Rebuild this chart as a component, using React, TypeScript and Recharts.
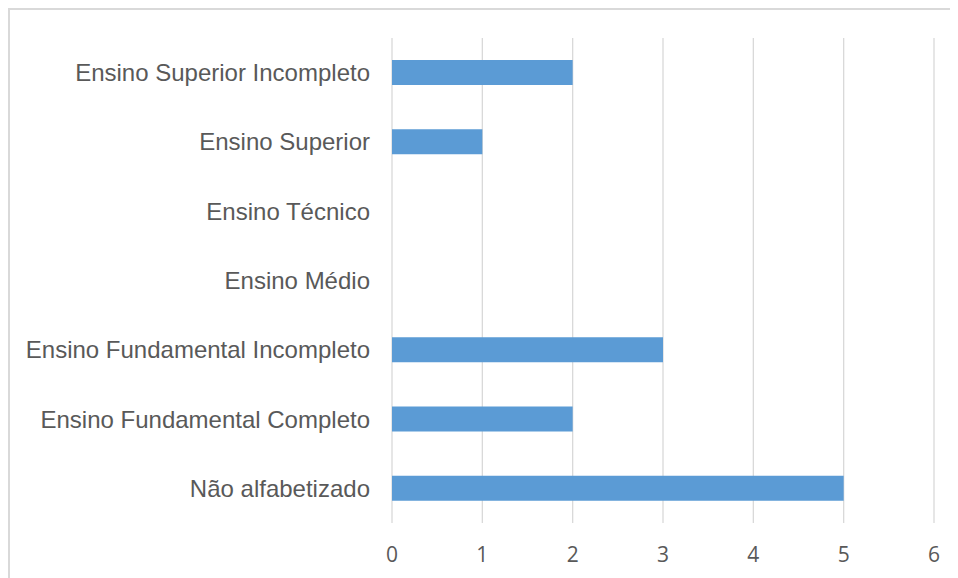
import { BarChart, Bar, XAxis, YAxis, CartesianGrid } from 'recharts';

const categories = [
    'Ensino Superior Incompleto',
    'Ensino Superior',
    'Ensino Técnico',
    'Ensino Médio',
    'Ensino Fundamental Incompleto',
    'Ensino Fundamental Completo',
    'Não alfabetizado',
];

const values = [2, 1, 0, 0, 3, 2, 5];

const xTicks = [0, 1, 2, 3, 4, 5, 6];

const data = categories.map((name, i) => ({ name, value: values[i] }));

export default function App() {
    // the frame runs off the right and bottom edge of the picture; no scrollbars
    return (
        <>
            <style>{'html, body { overflow: hidden; }'}</style>
            <div
                style={{
                    width: 980,
                    height: 590,
                    borderTop: '2px solid #d9d9d9',
                    borderLeft: '2px solid #d9d9d9',
                    background: '#fff',
                }}
            >
                <BarChart
                    width={948}
                    height={568}
                    data={data}
                    layout="vertical"
                    margin={{ top: 28, right: 24, bottom: 15, left: 0 }}
                >
                    <CartesianGrid horizontal={false} stroke="#d9d9d9" strokeWidth={1.3} />
                    <XAxis
                        type="number"
                        domain={[0, 6]}
                        ticks={xTicks}
                        height={40}
                        axisLine={false}
                        tickLine={false}
                        tickSize={0}
                        tickMargin={24}
                        tick={{ fill: '#595959', fontSize: 21, fontFamily: 'Open Sans' }}
                    />
                    <YAxis
                        type="category"
                        dataKey="name"
                        width={382}
                        axisLine={false}
                        tickLine={false}
                        tickSize={0}
                        tickMargin={22}
                        interval={0}
                        tick={{ fill: '#595959', fontSize: 24, fontFamily: 'Liberation Sans' }}
                    />
                    <Bar dataKey="value" fill="#5b9bd5" barSize={25} isAnimationActive={false} />
                </BarChart>
            </div>
        </>
    );
}
